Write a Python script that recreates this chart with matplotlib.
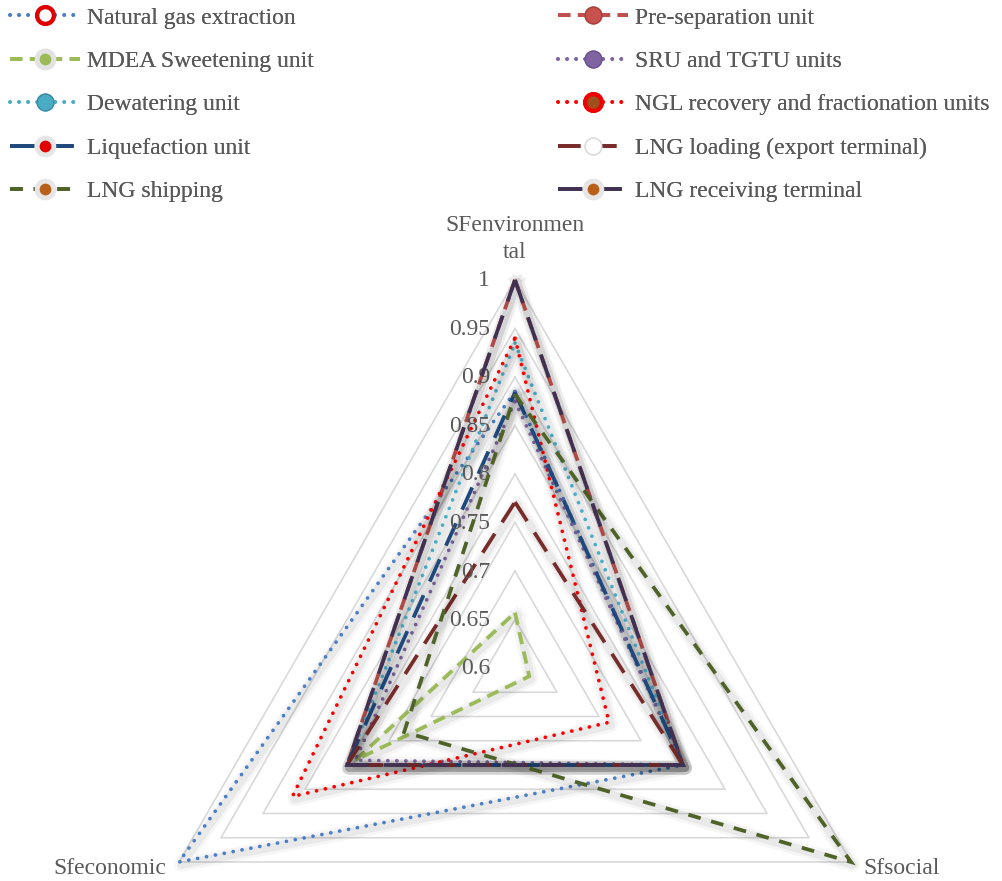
import numpy as np
import matplotlib
matplotlib.use("Agg")
import matplotlib.pyplot as plt
import matplotlib.patheffects as pe
from matplotlib.lines import Line2D
from matplotlib.transforms import offset_copy

plt.rcParams['font.family'] = ['Liberation Serif', 'DejaVu Serif']

# ---------------- data ----------------
axes_labels = ["SFenvironmen\ntal", "Sfsocial", "Sfeconomic"]
series_names = [
    "Natural gas extraction", "Pre-separation unit",
    "MDEA Sweetening unit", "SRU and TGTU units",
    "Dewatering unit", "NGL recovery and fractionation units",
    "Liquefaction unit", "LNG loading (export terminal)",
    "LNG shipping", "LNG receiving terminal",
]
# values: [environmental, social, economic]
natural_gas = [0.885, 0.80, 1.00]
pre_separation = [1.00, 0.80, 0.80]
mdea = [0.657, 0.617, 0.79]
sru_tgtu = [0.875, 0.80, 0.79]
dewatering = [0.935, 0.80, 0.80]
ngl = [0.94, 0.712, 0.865]
liquefaction = [0.884, 0.80, 0.80]
lng_loading = [0.771, 0.80, 0.80]
lng_shipping = [0.882, 1.00, 0.732]
lng_receiving = [1.00, 0.80, 0.80]
series_values = [natural_gas, pre_separation, mdea, sru_tgtu, dewatering,
                 ngl, liquefaction, lng_loading, lng_shipping, lng_receiving]
r_ticks = [0.6, 0.65, 0.7, 0.75, 0.8, 0.85, 0.9, 0.95, 1.0]
r_tick_labels = ["0.6", "0.65", "0.7", "0.75", "0.8", "0.85", "0.9", "0.95", "1"]

# ---------------- styles ----------------
DOT = (0, (0.01, 2.4))
DASH = (0, (3.3, 2.0))
LDASH_SHIP = (0, (3.4, 2.9))
LDASH = (0, (6.0, 3.6))
LDASHDOT = (0, (6.5, 2.0, 0.01, 2.0))
styles = [
    dict(color="#4A7EC6", ls=DOT, cap="round", mfc="white", mec="#E00000", mew=3),
    dict(color="#C0504D", ls=DASH, cap="butt", mfc="#C8504D", mec="#A8403D", mew=1),
    dict(color="#9BBB59", ls=DASH, cap="butt", mfc="#9BBB59", mec="#E2E2E2", mew=3.5),
    dict(color="#8064A2", ls=DOT, cap="round", mfc="#8064A2", mec="#6A5290", mew=1),
    dict(color="#4BACC6", ls=DOT, cap="round", mfc="#4BACC6", mec="#3A90AA", mew=1),
    dict(color="#FF0000", ls=DOT, cap="round", mfc="#A0501A", mec="#F00000", mew=3),
    dict(color="#1F497D", ls=LDASHDOT, cap="butt", mfc="#E00000", mec="#E6E6E6", mew=3.5),
    dict(color="#772C2A", ls=LDASH, cap="butt", mfc="white", mec="#DADADA", mew=1),
    dict(color="#4F6228", ls=LDASH_SHIP, cap="butt", mfc="#B8601A", mec="#E6E6E6", mew=3.5),
    dict(color="#403152", ls=LDASHDOT, cap="butt", mfc="#B8601A", mec="#E6E6E6", mew=3.5),
]
TXT = "#595959"
FS = 17
LW = 2.7

W, H = 1003, 881
fig = plt.figure(figsize=(W / 100, H / 100), dpi=100)
cx, cy, R = 515, 668, 388
ax = fig.add_axes([(cx - R) / W, (H - cy - R) / H, 2 * R / W, 2 * R / H],
                  projection="polar")
ax.set_theta_zero_location("N")
ax.set_theta_direction(-1)
ax.set_ylim(0.6, 1.0)
ax.grid(False)
ax.set_xticks([])
ax.set_yticks([])
ax.spines["polar"].set_visible(False)
ax.patch.set_visible(False)

n = len(axes_labels)
theta = np.arange(n) * 2 * np.pi / n
theta_c = np.append(theta, theta[0])

# gridlines (triangles)
for rv in r_ticks[1:]:
    ax.plot(theta_c, [rv] * (n + 1), color="#D9D9D9", lw=1.2, zorder=1, clip_on=False)

# tick labels
toff = offset_copy(ax.transData, fig=fig, x=-25, y=-1, units="dots")
for rv, lab in zip(r_ticks, r_tick_labels):
    ax.text(0, rv, lab, transform=toff, ha="right", va="center", fontsize=FS,
            color=TXT, zorder=20)

# series
handles = []
for i, (name, vals, st) in enumerate(zip(series_names, series_values, styles)):
    v = np.append(vals, vals[0])
    z = 3 + i * 2
    # soft shadow
    ax.plot(theta_c, v, color="k", lw=LW, alpha=0.0, clip_on=False, zorder=z,
            path_effects=[pe.SimpleLineShadow(offset=(1.5, -2), shadow_color="k",
                                              alpha=0.035, linewidth=10),
                          pe.SimpleLineShadow(offset=(1.5, -2), shadow_color="k",
                                              alpha=0.05, linewidth=6)])
    ln, = ax.plot(theta_c, v, color=st["color"], lw=LW, linestyle=st["ls"],
                  dash_capstyle=st["cap"], solid_joinstyle="miter",
                  dash_joinstyle="miter", clip_on=False, zorder=z + 1)
    h = Line2D([], [], color=st["color"], lw=LW, linestyle=st["ls"],
               dash_capstyle=st["cap"], marker="o", markersize=12,
               markerfacecolor=st["mfc"], markeredgecolor=st["mec"],
               markeredgewidth=st["mew"])
    handles.append(h)

# axis category labels
fig.text(cx / W, 1 - 239 / H, axes_labels[0], ha="center", va="center",
         fontsize=FS, color=TXT, linespacing=1.35)
fig.text(863 / W, 1 - 868 / H, axes_labels[1], ha="left", va="center",
         fontsize=FS, color=TXT)
fig.text(166 / W, 1 - 868 / H, axes_labels[2], ha="right", va="center",
         fontsize=FS, color=TXT)

# legends (two columns, row-major order)
left_idx = [0, 2, 4, 6, 8]
right_idx = [1, 3, 5, 7, 9]
for idx, x0 in ((left_idx, 10), (right_idx, 558)):
    leg = fig.legend([handles[k] for k in idx], [series_names[k] for k in idx],
                     loc="upper left", bbox_to_anchor=(x0 / W, 1 - 7 / H),
                     frameon=False, fontsize=FS, labelcolor=TXT,
                     handlelength=2.95, handletextpad=0.3, labelspacing=0.93,
                     borderpad=0, borderaxespad=0)
    fig.add_artist(leg)

fig.savefig("out.png", dpi=100)
